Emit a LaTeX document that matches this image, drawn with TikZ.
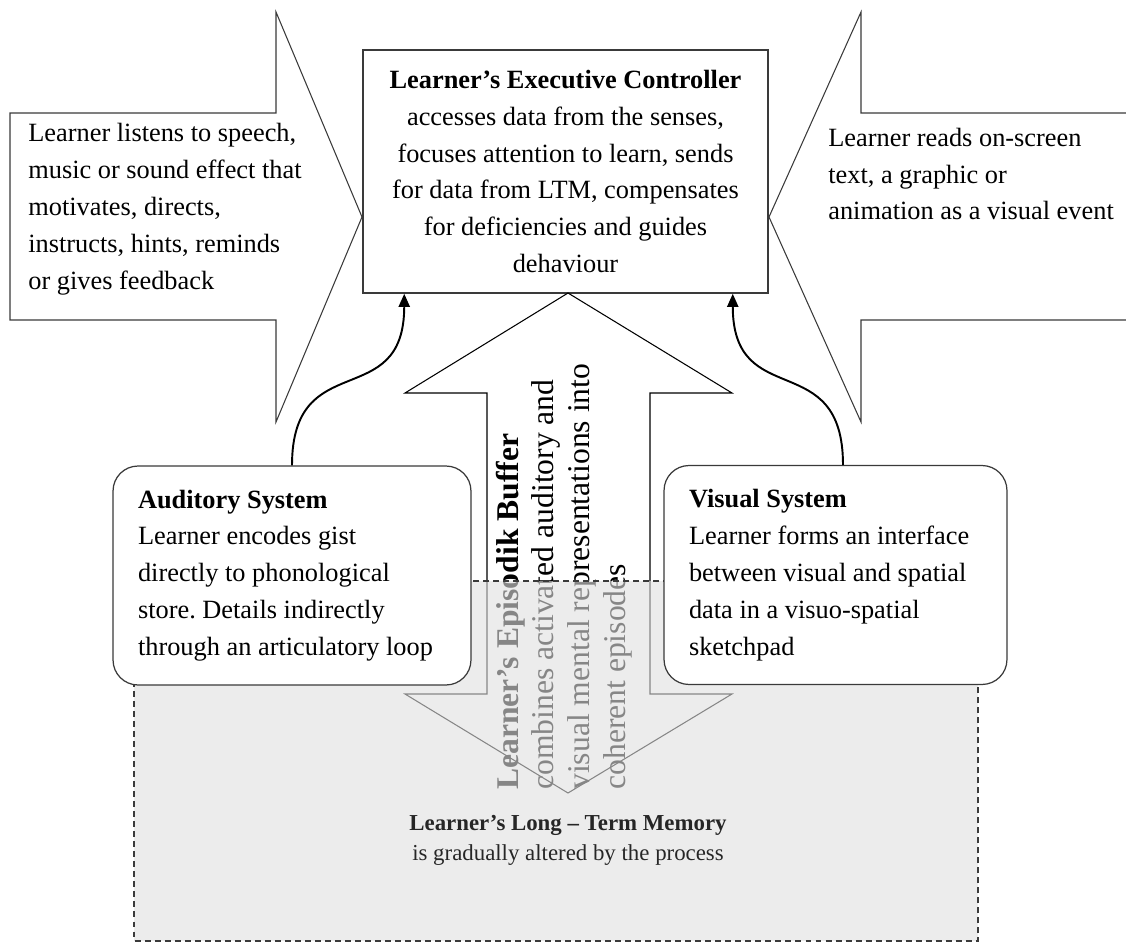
\documentclass[tikz,border=0pt]{standalone}
\usepackage{fontspec}
\setmainfont{Liberation Serif}
\usetikzlibrary{arrows.meta,positioning}
\definecolor{edge}{HTML}{3A3A3A}
\definecolor{ltmgray}{HTML}{E0E0E0}
\newcommand{\bodysize}{\fontsize{15pt}{21pt}\selectfont\frenchspacing}
\tikzset{
    % block arrows round the controller
    blockarrow/.style={
        draw=edge,
        line width=0.6pt,
        fill=white
    },
    % text inside the side arrows
    arrowtext/.style={
        anchor=west,
        align=left,
        inner sep=0pt,
        font=\bodysize
    },
    % executive controller
    ctrlbox/.style={
        rectangle,
        draw=edge,
        line width=0.9pt,
        fill=white,
        minimum width=8.1cm,
        minimum height=4.86cm,
        align=center,
        font=\bodysize
    },
    % auditory / visual systems
    sysbox/.style={
        rectangle,
        rounded corners=0.5cm,
        draw=edge,
        line width=0.7pt,
        fill=white,
        text width=#1,
        inner xsep=0.5cm,
        minimum height=4.38cm,
        align=flush left,
        font=\bodysize
    },
    % rotated text of the episodic buffer
    buffertext/.style={
        rotate=90,
        anchor=west,
        align=left,
        inner sep=0pt,
        font=\fontsize{18pt}{20.4pt}\selectfont
    },
    % long-term memory area
    ltmarea/.style={
        fill=ltmgray,
        fill opacity=0.6,
        draw=edge,
        line width=0.6pt,
        dash pattern=on 3.4pt off 2.3pt
    },
    ltmtext/.style={
        align=center,
        text=black!85,
        font=\fontsize{13pt}{17pt}\selectfont
    },
    % arrows from the senses to the controller
    sense/.style={
        -{Triangle[length=0.26cm, width=0.22cm]},
        line width=1.1pt
    }
}

\begin{document}
\begin{tikzpicture}[x=0.02cm, y=-0.02cm]
    \useasboundingbox (0,0) rectangle (1126,943);

    % Side arrows
    \draw[blockarrow] (10,113) -- (276,113) -- (276,12) -- (362,217) -- (276,422) -- (276,320) -- (10,320) -- cycle;
    \draw[blockarrow] (1126,113) -- (861,113) -- (861,12) -- (769,217) -- (861,422) -- (861,320) -- (1126,320);
    \node[arrowtext] (hear) at (28,209) {Learner listens to speech,\\music or sound effect that\\motivates, directs,\\instructs, hints, reminds\\or gives feedback};
    \node[arrowtext] (see) at (828,174) {Learner reads on-screen\\text, a graphic or\\animation as a visual event};

    % Executive controller
    \node[ctrlbox] (exec) at (565.5,171.5) {\textbf{Learner’s Executive Controller}\\accesses data from the senses,\\focuses attention to learn, sends\\for data from LTM, compensates\\for deficiencies and guides\\dehaviour};

    % Episodic buffer
    \draw[blockarrow, draw=black] (568,293) -- (732,393) -- (650,393) -- (650,694) -- (732,694) -- (568,793) -- (405,694) -- (487,694) -- (487,393) -- (405,393) -- cycle;
    \node[buffertext] (buffer) at (564,790) {\textbf{Learner’s Episodik Buffer}\\combines activated auditory and\\visual mental representations into\\coherent episodes};

    % Long-term memory
    \path[ltmarea] (134,581) rectangle (978,941);

    % Systems
    \node[sysbox=6.16cm] (aud) at (292,575.5) {\textbf{Auditory System}\\Learner encodes gist\\directly to phonological\\store. Details indirectly\\through an articulatory loop};
    \node[sysbox=5.86cm] (vis) at (835.5,575) {\textbf{Visual System}\\Learner forms an interface\\between visual and spatial\\data in a visuo-spatial\\sketchpad};

    \draw[sense] (aud.north) to[out=90, in=-90, looseness=1.5] ([xshift=0.84cm]exec.south west);
    \draw[sense] ([xshift=0.15cm]vis.north) to[out=90, in=-90, looseness=1.5] ([xshift=-0.72cm]exec.south east);

    \node[ltmtext] (ltm) at (568,840) {\textbf{Learner’s Long – Term Memory}\\is gradually altered by the process};

\end{tikzpicture}
\end{document}
